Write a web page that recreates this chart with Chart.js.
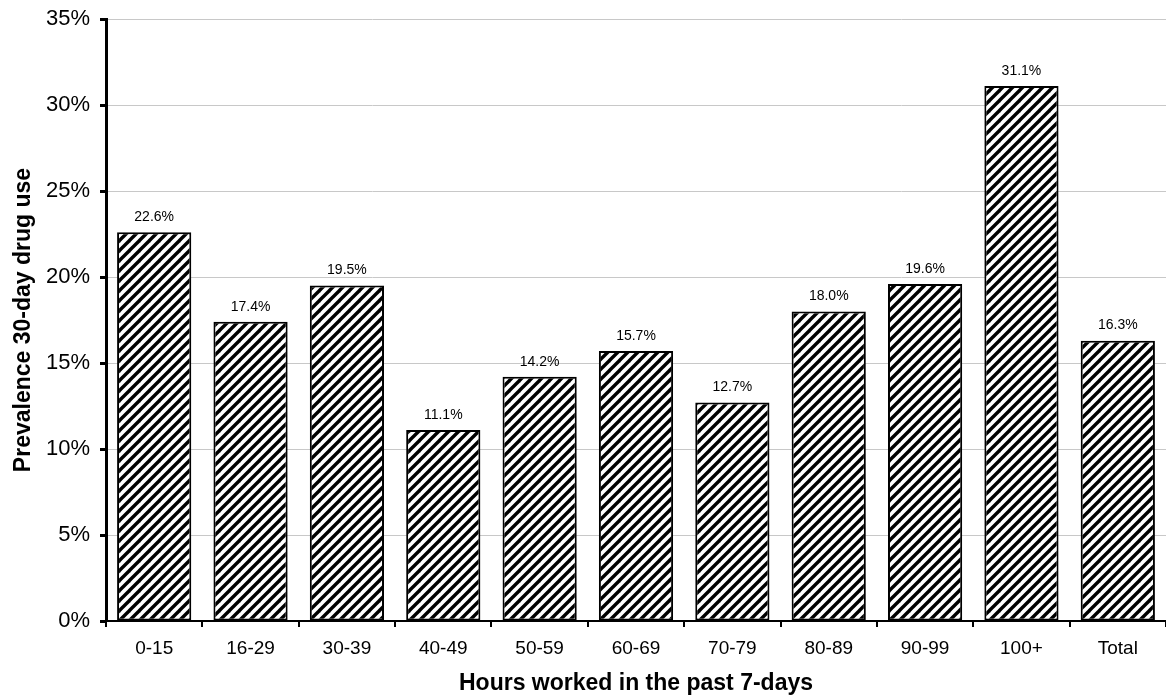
<!DOCTYPE html>
<html>
<head>
<meta charset="utf-8">
<script src="https://cdn.jsdelivr.net/npm/chart.js@4"></script>
<style>
html,body{margin:0;padding:0;background:#fff;}
#wrap{width:1166px;height:697px;position:relative;}
</style>
</head>
<body>
<div id="wrap"><canvas id="c" width="1166" height="697"></canvas></div>
<script>
const categories = ['0-15','16-29','30-39','40-49','50-59','60-69','70-79','80-89','90-99','100+','Total'];
const prevalence = [22.6, 17.4, 19.5, 11.1, 14.2, 15.7, 12.7, 18.0, 19.6, 31.1, 16.3];
const yTicks = [0, 5, 10, 15, 20, 25, 30, 35];
const xTitle = 'Hours worked in the past 7-days';
const yTitle = 'Prevalence 30-day drug use';

function makePattern(){
  const p = document.createElement('canvas');
  const s = 10;
  p.width = s; p.height = s;
  const g = p.getContext('2d');
  g.fillStyle = '#fff';
  g.fillRect(0,0,s,s);
  g.strokeStyle = '#000';
  g.lineWidth = 3.4;
  g.lineCap = 'square';
  [-s, 0, s].forEach(dx=>{
    g.beginPath();
    g.moveTo(dx - 1, s + 1);
    g.lineTo(dx + s + 1, -1);
    g.stroke();
  });
  return document.getElementById('c').getContext('2d').createPattern(p,'repeat');
}

const labelPlugin = {
  id: 'valueLabels',
  afterDatasetsDraw(chart){
    const ctx = chart.ctx;
    const meta = chart.getDatasetMeta(0);
    ctx.save();
    ctx.font = '14px "Liberation Sans", Arial, sans-serif';
    ctx.fillStyle = '#000';
    ctx.textAlign = 'center';
    ctx.textBaseline = 'bottom';
    meta.data.forEach((bar,i)=>{
      ctx.fillText(prevalence[i].toFixed(1) + '%', bar.x, bar.y - 8);
    });
    ctx.restore();
  }
};

const font = '"Liberation Sans", Arial, sans-serif';
new Chart(document.getElementById('c'), {
  type: 'bar',
  data: {
    labels: categories,
    datasets: [{
      data: prevalence,
      backgroundColor: makePattern(),
      borderColor: '#000',
      borderWidth: 2,
      borderSkipped: false,
      categoryPercentage: 1,
      barPercentage: 0.77
    }]
  },
  options: {
    responsive: false,
    animation: false,
    devicePixelRatio: 1,
    layout: { padding: { top: 19, right: 0, left: 0, bottom: 0 } },
    plugins: { legend: { display: false }, tooltip: { enabled: false } },
    scales: {
      x: {
        grid: { display: true, drawOnChartArea: false, offset: true, color: '#000', tickLength: 6, lineWidth: 2 },
        border: { display: true, color: '#000', width: 2 },
        ticks: { color: '#000', font: { family: font, size: 19 }, padding: 10, maxRotation: 0 },
        title: { display: true, text: xTitle, color: '#000', font: { family: font, size: 23, weight: 'bold' }, padding: { top: 0, bottom: 0 } },
        afterFit(s){ s.height = 76; s.paddingLeft = 0; s.paddingRight = 0; }
      },
      y: {
        min: 0, max: 35,
        afterBuildTicks(s){ s.ticks = yTicks.map(v=>({value:v})); },
        grid: { color: '#c8c8c8', lineWidth: 1, tickColor: '#000', tickLength: 6, tickWidth: 3 },
        border: { display: true, color: '#000', width: 3 },
        ticks: { color: '#000', font: { family: font, size: 22 }, padding: 10, callback: v => v + '%' },
        title: { display: true, text: yTitle, color: '#000', font: { family: font, size: 23, weight: 'bold' }, padding: { top: 10, bottom: 0 } },
        afterFit(s){ s.width = 106; s.paddingTop = 0; s.paddingBottom = 0; }
      }
    }
  },
  plugins: [labelPlugin]
});
</script>
</body>
</html>
